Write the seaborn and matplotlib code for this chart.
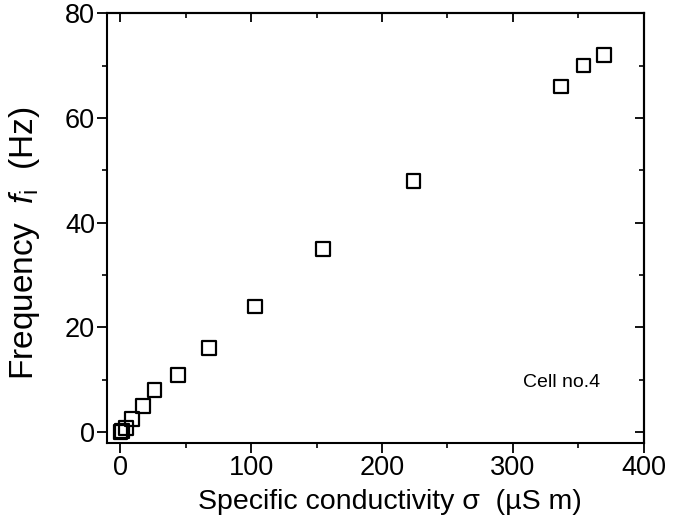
import matplotlib
matplotlib.use("Agg")
import matplotlib.pyplot as plt
import seaborn as sns
import pandas as pd
from matplotlib.ticker import MultipleLocator

# Cell no.4: specific conductivity vs. frequency
conductivity = [0, 1, 4, 9, 17, 26, 44, 68, 103, 155, 224, 337, 354, 370]
frequency    = [0, 0.3, 0.8, 2.5, 5, 8, 11, 16, 24, 35, 48, 66, 70, 72]

X_TICKS = [0, 100, 200, 300, 400]
Y_TICKS = [0, 20, 40, 60, 80]

sns.set_style("ticks")
plt.rcParams["font.family"] = ["Liberation Sans", "DejaVu Sans"]
plt.rcParams["mathtext.fontset"] = "custom"
plt.rcParams["mathtext.rm"] = "Liberation Sans"
plt.rcParams["mathtext.it"] = "Liberation Sans:italic"
for key in ["text.color", "axes.labelcolor", "xtick.color", "ytick.color", "axes.edgecolor"]:
    plt.rcParams[key] = "black"

df = pd.DataFrame({"sigma": conductivity, "freq": frequency})

fig = plt.figure(figsize=(6.84, 5.27), dpi=100)
ax = fig.add_axes([0.157, 0.16, 0.784, 0.815])

sns.scatterplot(data=df, x="sigma", y="freq", marker="s", s=100,
                facecolor="none", edgecolor="black", linewidth=1.6, ax=ax)
ax.collections[0].set_facecolor("none")

ax.set_xlim(-10, 400)
ax.set_ylim(-2, 80)
ax.set_xticks(X_TICKS)
ax.set_yticks(Y_TICKS)
ax.xaxis.set_minor_locator(MultipleLocator(50))
ax.yaxis.set_minor_locator(MultipleLocator(10))

ax.tick_params(which="major", direction="out", length=7, width=1.3,
               labelsize=19.5, pad=2)
ax.tick_params(which="minor", direction="out", length=3.5, width=1.2)

for side in ["top", "right", "left", "bottom"]:
    ax.spines[side].set_visible(True)
    ax.spines[side].set_linewidth(1.5)

# inward ticks on the top and right sides
top = ax.secondary_xaxis("top")
top.set_xticks(X_TICKS)
top.xaxis.set_minor_locator(MultipleLocator(50))
top.tick_params(which="major", direction="in", length=6.5, width=1.3, labeltop=False)
top.tick_params(which="minor", direction="in", length=3.5, width=1.2)
top.spines["top"].set_linewidth(1.5)

right = ax.secondary_yaxis("right")
right.set_yticks(Y_TICKS)
right.yaxis.set_minor_locator(MultipleLocator(10))
right.tick_params(which="major", direction="in", length=6.5, width=1.3, labelright=False)
right.tick_params(which="minor", direction="in", length=3.5, width=1.2)
right.spines["right"].set_linewidth(1.5)

ax.set_xlabel("Specific conductivity σ  (µS m)", fontsize=20.5)
ax.set_ylabel(r"Frequency  $\it{f}$$_{\rm i}$  (Hz)", fontsize=24)
ax.xaxis.set_label_coords(0.527, -0.108)
ax.yaxis.set_label_coords(-0.122, 0.465)

ax.text(0.918, 0.141, "Cell no.4", transform=ax.transAxes, fontsize=14,
        ha="right", va="center")

fig.savefig("out.png", dpi=100)
plt.close(fig)
